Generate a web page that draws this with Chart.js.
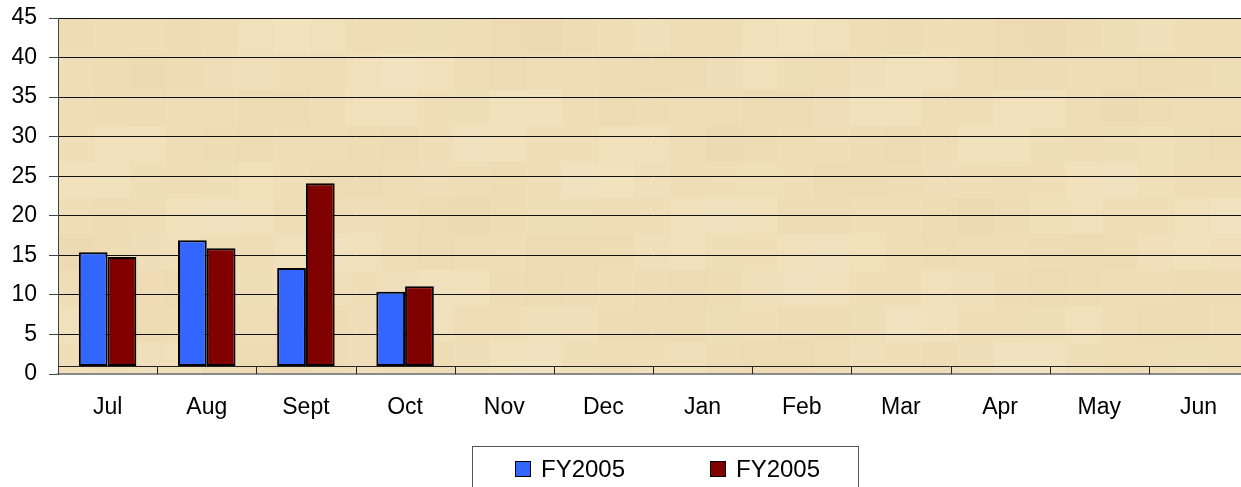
<!DOCTYPE html>
<html>
<head>
<meta charset="utf-8">
<script src="https://cdn.jsdelivr.net/npm/chart.js@4"></script>
<style>
  html, body { margin: 0; padding: 0; background: #fff; overflow: hidden; }
  #wrap { width: 1250px; height: 487px; position: relative; }
</style>
</head>
<body>
<div id="wrap"><canvas id="chart" width="1250" height="487"></canvas></div>
<script>
// data
const months = ["Jul", "Aug", "Sept", "Oct", "Nov", "Dec", "Jan", "Feb", "Mar", "Apr", "May", "Jun"];
const seriesA = [15.4, 16.9, 13.4, 10.4, null, null, null, null, null, null, null, null];
const seriesB = [14.8, 15.9, 24.1, 11.1, null, null, null, null, null, null, null, null];
const seriesLabels = ["FY2005", "FY2005"];
const yTicks = [0, 5, 10, 15, 20, 25, 30, 35, 40, 45];

const FONT = "'Liberation Sans', Arial, sans-serif";
const floorValue = 1;

// parchment background + floor band
const backdrop = {
  id: "backdrop",
  beforeDraw(chart) {
    const { ctx, chartArea: a } = chart;
    ctx.save();
    ctx.fillStyle = "#efdeb8";
    ctx.fillRect(a.left, a.top, a.right - a.left, a.bottom - a.top);
    // soft mottled patches
    const tile = 36;
    for (let x = a.left; x < a.right; x += tile) {
      for (let y = a.top; y < a.bottom; y += tile) {
        const s = Math.sin(x * 0.037 + y * 0.051) + Math.cos(x * 0.013 - y * 0.029);
        ctx.fillStyle = s > 0 ? "rgba(236,212,170," + (0.18 * s).toFixed(3) + ")"
                              : "rgba(246,236,205," + (-0.18 * s).toFixed(3) + ")";
        ctx.fillRect(x, y, Math.min(tile, a.right - x), Math.min(tile, a.bottom - y));
      }
    }
    ctx.restore();
  },
  afterDatasetsDraw(chart) {
    const { ctx, chartArea: a, scales } = chart;
    const yf = Math.round(scales.y.getPixelForValue(floorValue)) + 0.5;
    const y0 = scales.y.getPixelForValue(0);
    ctx.save();
    ctx.strokeStyle = "#222";
    ctx.lineWidth = 1;
    ctx.beginPath();
    ctx.moveTo(a.left, yf);
    ctx.lineTo(a.right, yf);
    for (let i = 1; i < months.length; i++) {
      const x = Math.round(scales.x.getPixelForValue(i - 0.5)) + 0.5;
      ctx.moveTo(x, yf);
      ctx.lineTo(x, y0);
    }
    ctx.stroke();
    ctx.restore();
  }
};

// boxed legend under the axis
const boxLegend = {
  id: "boxLegend",
  afterDraw(chart) {
    const { ctx } = chart;
    ctx.save();
    ctx.strokeStyle = "#555";
    ctx.lineWidth = 1;
    ctx.strokeRect(472.5, 446.5, 386, 60);
    ctx.font = "24px " + FONT;
    ctx.textBaseline = "alphabetic";
    const items = [
      { x: 515, color: "#3366ff", text: seriesLabels[0] },
      { x: 710, color: "#800000", text: seriesLabels[1] }
    ];
    items.forEach(it => {
      ctx.fillStyle = it.color;
      ctx.fillRect(it.x, 461, 16, 16);
      ctx.strokeStyle = "#000";
      ctx.strokeRect(it.x + 0.5, 461.5, 15, 15);
      ctx.fillStyle = "#000";
      ctx.fillText(it.text, it.x + 26, 477);
    });
    ctx.restore();
  }
};

new Chart(document.getElementById("chart"), {
  type: "bar",
  data: {
    labels: months,
    datasets: [
      {
        label: seriesLabels[0],
        data: seriesA,
        base: floorValue,
        backgroundColor: "#3366ff",
        borderColor: "#000",
        borderWidth: 2,
        borderSkipped: false
      },
      {
        label: seriesLabels[1],
        data: seriesB,
        base: floorValue,
        backgroundColor: "#800000",
        borderColor: "#000",
        borderWidth: 2,
        borderSkipped: false
      }
    ]
  },
  options: {
    responsive: false,
    animation: false,
    devicePixelRatio: 1,
    layout: { padding: { top: 18, right: 2, left: 0, bottom: 0 } },
    datasets: { bar: { categoryPercentage: 0.58, barPercentage: 1.0 } },
    plugins: { legend: { display: false }, tooltip: { enabled: false } },
    scales: {
      x: {
        grid: { display: false },
        border: { color: "#8a8a8a", width: 2 },
        ticks: {
          color: "#000",
          font: { family: FONT, size: 23 },
          padding: 12,
          maxRotation: 0,
          autoSkip: false
        },
        afterFit(scale) { scale.height = 113; scale.paddingLeft = 0; scale.paddingRight = 0; }
      },
      y: {
        min: 0,
        max: 45,
        afterBuildTicks(scale) { scale.ticks = yTicks.map(v => ({ value: v })); },
        grid: { color: "#111", lineWidth: 1, tickLength: 9, tickColor: "#444" },
        border: { color: "#444", width: 1 },
        ticks: {
          color: "#000",
          font: { family: FONT, size: 23 },
          padding: 12
        },
        afterFit(scale) { scale.width = 58; scale.paddingTop = 0; scale.paddingBottom = 0; }
      }
    }
  },
  plugins: [backdrop, boxLegend]
});
</script>
</body>
</html>
